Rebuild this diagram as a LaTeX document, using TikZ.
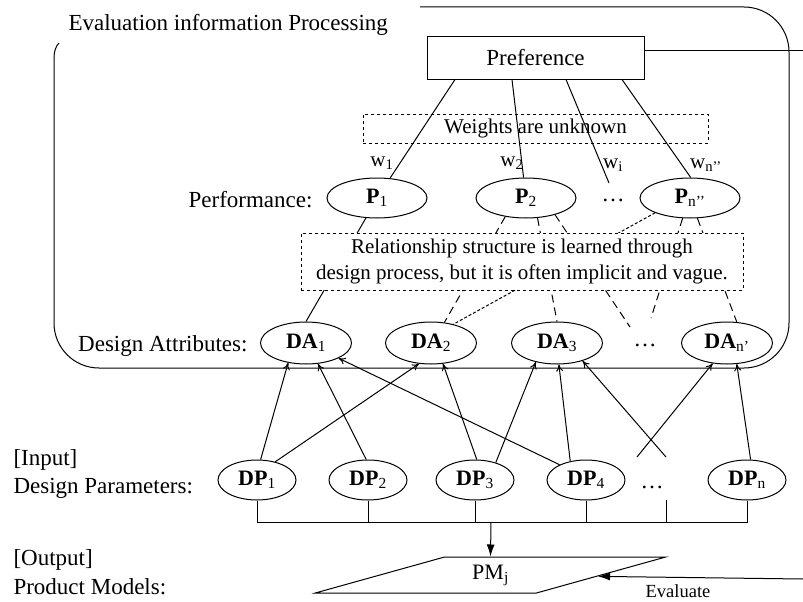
\documentclass[tikz,border=0pt]{standalone}
\usepackage{fontspec}
\setmainfont{Liberation Serif}
\usetikzlibrary{shapes.geometric,arrows.meta}
\begin{document}
\begin{tikzpicture}[x=1pt,y=-1pt,line width=1pt,>={To[length=7pt,width=7pt]},
    txt/.style={font=\fontsize{23}{27}\selectfont,inner sep=0pt},
    wlabel/.style={font=\fontsize{21}{24}\selectfont,inner sep=0pt},
    perf/.style={draw,ellipse,minimum width=100pt,minimum height=40pt,inner sep=0pt,font=\fontsize{22}{24}\selectfont},
    attr/.style={perf,minimum width=91pt,minimum height=42pt},
    param/.style={perf,minimum width=78pt,minimum height=40pt},
    note/.style={draw,dashed,fill=white,font=\fontsize{21}{26}\selectfont,inner sep=0pt},
    dashes/.style={dash pattern=on 8pt off 5pt},
    fine/.style={dash pattern=on 3pt off 2pt},
    solidtip/.style={-{Latex[length=12pt,width=8pt]}}]
\useasboundingbox (0,0) rectangle (803,602);
% frame of the evaluation part
\draw[rounded corners=45pt] (420,7) -- (789,7) -- (789,368) -- (54,368) -- (54,58);
\draw (54,58) .. controls (54,51) and (56,46) .. (59,43);
\node[txt,anchor=base west] (title) at (68,31) {Evaluation information Processing};
% preference and weights
\node[draw,minimum width=217pt,minimum height=42pt,font=\fontsize{23}{27}\selectfont] (pref) at (535.5,58) {Preference};
\node[note,fill=none,minimum width=345pt,minimum height=29pt] (weights) at (535.5,128.5) {Weights are unknown};
% performance
\node[txt,anchor=base east] (perflabel) at (313,207) {Performance:};
\node[perf] (P1) at (377,198) {\textbf{P}\textsubscript{1}};
\node[perf] (P2) at (526,198) {\textbf{P}\textsubscript{2}};
\node[txt] (pdots) at (613,200) {\dots};
\node[perf] (Pn) at (690,198) {\textbf{P}\textsubscript{n’’}};
\coordinate (wi) at (609,183);
\draw ([xshift=-80.5pt]pref.south) -- (P1);
\draw ([xshift=-23.5pt]pref.south) -- (P2);
\draw ([xshift=30.5pt]pref.south) -- (wi);
\draw ([xshift=86.5pt]pref.south) -- (Pn.88);
\node[wlabel] (w1) at (382,163) {w\textsubscript{1}};
\node[wlabel] (w2) at (512,163) {w\textsubscript{2}};
\node[wlabel] (wi label) at (613,165) {w\textsubscript{i}};
\node[wlabel] (wn) at (706,165) {w\textsubscript{n’’}};
% design attributes
\node[txt,anchor=base east] (dalabel) at (248,351) {Design Attributes:};
\node[attr] (DA1) at (306,343) {\textbf{DA}\textsubscript{1}};
\node[attr] (DA2) at (431,343) {\textbf{DA}\textsubscript{2}};
\node[attr] (DA3) at (557,343) {\textbf{DA}\textsubscript{3}};
\node[txt] (dadots) at (645,345) {\dots};
\node[attr] (DAn) at (727,343) {\textbf{DA}\textsubscript{n’}};
% relations, partly hidden by the note
\coordinate (ga) at (630,327);
\coordinate (gb) at (651,318);
\draw (P1.241) -- (DA1.north);
\draw[dashes] (P2.222) -- (DA2.57);
\draw[dashes] (P2.300) -- (DA3.north);
\draw[dashes] (P2.330) -- (ga);
\draw[fine] (Pn.203) -- (DA2.40);
\draw[dashes] (Pn.250) -- (gb);
\draw[dashes] (Pn.290) -- (DAn.65);
\node[note,minimum width=442pt,minimum height=57pt,align=center] (rel) at (522,261.5) {Relationship structure is learned through\\design process, but it is often implicit and vague.};
% design parameters
\node[txt,anchor=base west] (inlabel) at (13,465) {[Input]};
\node[txt,anchor=base west] (dplabel) at (13,493) {Design Parameters:};
\node[param] (DP1) at (257,480) {\textbf{DP}\textsubscript{1}};
\node[param] (DP2) at (368,480) {\textbf{DP}\textsubscript{2}};
\node[param] (DP3) at (475,480) {\textbf{DP}\textsubscript{3}};
\node[param] (DP4) at (586,480) {\textbf{DP}\textsubscript{4}};
\node[txt] (dpdots) at (652,487) {\dots};
\node[param] (DPn) at (747,480) {\textbf{DP}\textsubscript{n}};
\coordinate (xa) at (637,457);
\coordinate (xb) at (666,457);
\draw[->] (DP1.80) -- (DA1.228);
\draw[->] (DP1.45) -- (DA2.240);
\draw[->] (DP2.95) -- (DA1.300);
\draw[->] (DP3.85) -- (DA2.300);
\draw[->] (DP3.40) -- (DA3.222);
\draw[->] (DP4.130) -- (DA3.275);
\draw[->] (DP4.150) -- (DA1.335);
\draw[->] (xb) -- (DA3.325);
\draw[->] (xa) -- (DAn.235);
\draw[->] (DPn.80) -- (DAn.295);
% bus to the product model
\coordinate (bus) at (491,522);
\coordinate (xs) at (666,500);
\draw (DP1.south) -- (DP1.south |- bus) -- (DPn.south |- bus) -- (DPn.south);
\draw (DP2.south) -- (DP2.south |- bus);
\draw (DP3.south) -- (DP3.south |- bus);
\draw (DP4.south) -- (DP4.south |- bus);
\draw (xs) -- (xs |- bus);
\node[txt,anchor=base west] (outlabel) at (13,565) {[Output]};
\node[txt,anchor=base west] (pmlabel) at (13,594) {Product Models:};
\node[draw,trapezium,trapezium left angle=22,trapezium right angle=158,trapezium stretches=true,minimum width=351pt,minimum height=36pt,inner sep=0pt,font=\fontsize{22}{24}\selectfont] (pm) at (490.5,575) {PM\textsubscript{j}};
\draw[solidtip] (bus) -- (pm.north);
% evaluation feedback
\coordinate (fb) at (803,51);
\coordinate (ev) at (803,579);
\draw (pref.east |- fb) -- (fb);
\draw[solidtip] (ev) -- (pm);
\node[font=\fontsize{18.5}{20}\selectfont,inner sep=0pt] (evlabel) at (678,591) {Evaluate};
\end{tikzpicture}
\end{document}
